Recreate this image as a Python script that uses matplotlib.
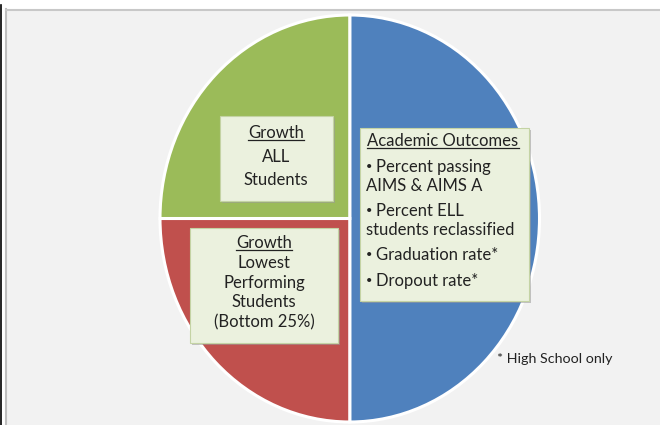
import matplotlib.pyplot as plt
from matplotlib.patches import Rectangle
from matplotlib.lines import Line2D

W, H = 660, 425

# pie shares (clockwise from 12 o'clock)
segments = ["Academic Outcomes", "Growth Lowest", "Growth ALL"]
shares = [50, 25, 25]
colours = ["#4F81BD", "#C0504D", "#9BBB59"]

growth_all_lines = ["Growth", "ALL", "Students"]
growth_low_lines = ["Growth", "Lowest", "Performing", "Students", "(Bottom 25%)"]
outcome_title = "Academic Outcomes"
outcome_lines = ["Percent passing", "AIMS & AIMS A", "Percent ELL",
                 "students reclassified", "Graduation rate*", "Dropout rate*"]
outcome_bullet = [True, False, True, False, True, True]
footnote = "* High School only"

plt.rcParams['font.family'] = ['Lato', 'DejaVu Sans']


def fx(px):
    return px / W


def fy(py):
    return 1 - py / H


fig = plt.figure(figsize=(W / 100, H / 100), dpi=100)
fig.patch.set_facecolor("white")

# chart area background + border
fig.patches.append(Rectangle((fx(6), 0), 1 - fx(6), fy(9), transform=fig.transFigure,
                             facecolor="#F2F2F2", edgecolor="none", zorder=-5))
fig.lines.append(Line2D([fx(6.5), fx(6.5)], [0, fy(9)], transform=fig.transFigure,
                        color="#BFBFBF", lw=1.5, zorder=-4))
fig.lines.append(Line2D([fx(6), 1], [fy(9.5), fy(9.5)], transform=fig.transFigure,
                        color="#C8C8C8", lw=1.5, zorder=-4))
fig.lines.append(Line2D([fx(1), fx(1)], [0, fy(5)], transform=fig.transFigure,
                        color="black", lw=1.2, zorder=-4))

# pie (slightly stretched like the original)
ax = fig.add_axes([fx(160), fy(422), fx(539.5) - fx(160), fy(15) - fy(422)])
ax.pie(shares, colors=colours, startangle=90, counterclock=False,
       wedgeprops=dict(edgecolor="white", linewidth=2.2))
ax.set_aspect('auto')
ax.set_xlim(-1, 1)
ax.set_ylim(-1, 1)
ax.axis('off')
ax.set_zorder(1)


def box(x0, y0, x1, y1):
    fig.patches.append(Rectangle((fx(x0 + 2), fy(y1 + 2)), fx(x1 - x0), (y1 - y0) / H,
                                 transform=fig.transFigure, facecolor="#9A9A9A",
                                 alpha=0.55, edgecolor="none", zorder=5))
    fig.patches.append(Rectangle((fx(x0), fy(y1)), fx(x1 - x0), (y1 - y0) / H,
                                 transform=fig.transFigure, facecolor="#EBF1DE",
                                 edgecolor="#C4D3A4", lw=0.8, zorder=6))


underlined = []


def txt(x, y, s, ha="center", size=12.0, under=False):
    t = fig.text(fx(x), fy(y), s, ha=ha, va="center", fontsize=size,
                 color="#222222", zorder=7)
    if under:
        underlined.append(t)
    return t


box(220, 116, 333, 201)
for s, y in zip(growth_all_lines, [133, 157, 180]):
    txt(276, y, s, under=(s == "Growth"))

box(190, 228, 338, 343)
for i, (s, y) in enumerate(zip(growth_low_lines, [243, 263, 283, 302, 322])):
    txt(264, y, s, under=(i == 0))

box(360, 128, 529, 301)
txt(443, 141, outcome_title, under=True)
for s, b, y in zip(outcome_lines, outcome_bullet, [167, 186, 211, 230, 255, 281]):
    if b:
        txt(366, y - 1, "\u2022", ha="left", size=8)
        txt(376, y, s, ha="left")
    else:
        txt(366, y, s, ha="left")

txt(497, 359, footnote, ha="left", size=10.3)

fig.canvas.draw()
r = fig.canvas.get_renderer()
for t in underlined:
    bb = t.get_window_extent(r)
    yy = (bb.y0 + 1) / H
    fig.lines.append(Line2D([bb.x0 / W, bb.x1 / W], [yy, yy], transform=fig.transFigure,
                            color="#222222", lw=0.9, zorder=8))

fig.savefig("out.png", dpi=100)
